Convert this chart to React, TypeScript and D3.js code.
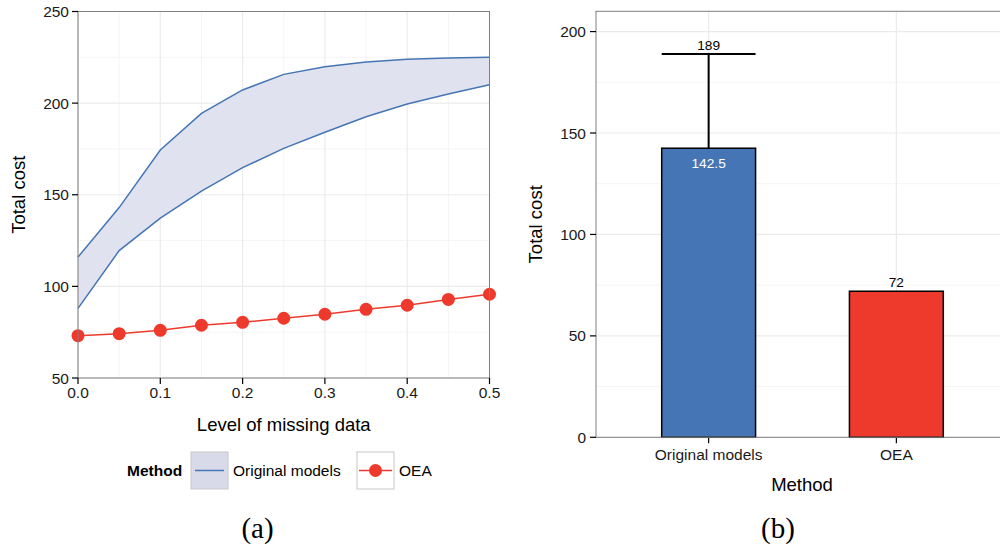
import React from "react";
import * as d3 from "d3";

// Panel (a): cost against the level of missing data
const missingLevels = [0, 0.05, 0.1, 0.15, 0.2, 0.25, 0.3, 0.35, 0.4, 0.45, 0.5];
const originalUpper = [116, 143, 174.4, 194.4, 207.2, 215.7, 219.9, 222.4, 223.9, 224.6, 225];
const originalLower = [88, 119.5, 137.2, 152, 164.8, 175.3, 184.1, 192.6, 199.5, 205, 210];
const oeaCost = [73.1, 74.2, 76, 78.8, 80.4, 82.6, 84.8, 87.5, 89.7, 92.9, 95.7];
const xTicksA = [0, 0.1, 0.2, 0.3, 0.4, 0.5];
const xMinorA = [0.05, 0.15, 0.25, 0.35, 0.45];
const yTicksA = [50, 100, 150, 200, 250];
const yMinorA = [75, 125, 175, 225];

// Panel (b): mean cost per method
const methods = ["Original models", "OEA"];
const methodMean = [142.5, 72];
const methodUpper = [189, null];
const yTicksB = [0, 50, 100, 150, 200];
const yMinorB = [25, 75, 125, 175];

const BLUE = "#4575b4";
const RED = "#ee3a2c";
const RIBBON = "#e0e3ef";
const SANS = "'Liberation Sans', Arial, Helvetica, sans-serif";
const SERIF = "'Liberation Serif', 'DejaVu Serif', serif";
const MAJOR = "#ebebeb";
const MINOR = "#f5f5f5";
const BORDER = "#7f7f7f";

function PanelA() {
  const x = d3.scaleLinear().domain([0, 0.5]).range([78, 489.5]);
  const y = d3.scaleLinear().domain([50, 250]).range([378, 11.5]);
  const pts = missingLevels.map((m, i) => ({ m, lo: originalLower[i], hi: originalUpper[i], o: oeaCost[i] }));
  const area = d3.area<any>().x((d) => x(d.m)).y0((d) => y(d.lo)).y1((d) => y(d.hi));
  const upper = d3.line<any>().x((d) => x(d.m)).y((d) => y(d.hi));
  const lower = d3.line<any>().x((d) => x(d.m)).y((d) => y(d.lo));
  const oea = d3.line<any>().x((d) => x(d.m)).y((d) => y(d.o));
  const [x0, x1] = x.range();
  const [yb, yt] = y.range();
  return (
    <g>
      <rect x={x0} y={yt} width={x1 - x0} height={yb - yt} fill="#fff" />
      {yMinorA.map((v) => (
        <line key={"ym" + v} x1={x0} x2={x1} y1={y(v)} y2={y(v)} stroke={MINOR} strokeWidth={1} />
      ))}
      {xMinorA.map((v) => (
        <line key={"xm" + v} x1={x(v)} x2={x(v)} y1={yt} y2={yb} stroke={MINOR} strokeWidth={1} />
      ))}
      {yTicksA.map((v) => (
        <line key={"yg" + v} x1={x0} x2={x1} y1={y(v)} y2={y(v)} stroke={MAJOR} strokeWidth={1.2} />
      ))}
      {xTicksA.map((v) => (
        <line key={"xg" + v} x1={x(v)} x2={x(v)} y1={yt} y2={yb} stroke={MAJOR} strokeWidth={1.2} />
      ))}
      <path d={area(pts) || ""} fill={RIBBON} />
      <path d={upper(pts) || ""} fill="none" stroke={BLUE} strokeWidth={1.5} />
      <path d={lower(pts) || ""} fill="none" stroke={BLUE} strokeWidth={1.5} />
      <path d={oea(pts) || ""} fill="none" stroke={RED} strokeWidth={1.5} />
      {pts.map((d) => (
        <circle key={"p" + d.m} cx={x(d.m)} cy={y(d.o)} r={6.5} fill={RED} />
      ))}
      <rect x={x0} y={yt} width={x1 - x0} height={yb - yt} fill="none" stroke={BORDER} strokeWidth={1} />
      {yTicksA.map((v) => (
        <g key={"yt" + v}>
          <line x1={x0 - 6} x2={x0} y1={y(v)} y2={y(v)} stroke="#000" strokeWidth={1.2} />
          <text x={x0 - 9} y={y(v)} dy="0.36em" textAnchor="end" fontSize={15.5} fontFamily={SANS} fill="#1a1a1a">
            {v}
          </text>
        </g>
      ))}
      {xTicksA.map((v) => (
        <g key={"xt" + v}>
          <line x1={x(v)} x2={x(v)} y1={yb} y2={yb + 6} stroke="#000" strokeWidth={1.2} />
          <text x={x(v)} y={398} textAnchor="middle" fontSize={15.5} fontFamily={SANS} fill="#1a1a1a">
            {d3.format(".1f")(v)}
          </text>
        </g>
      ))}
      <text x={(x0 + x1) / 2} y={431} textAnchor="middle" fontSize={18.5} fontFamily={SANS} fill="#000">
        Level of missing data
      </text>
      <text
        transform={`translate(25,${(yt + yb) / 2}) rotate(-90)`}
        textAnchor="middle"
        fontSize={18.5}
        fontFamily={SANS}
        fill="#000"
      >
        Total cost
      </text>
      {/* legend */}
      <text x={127} y={476} fontSize={15.5} fontWeight="bold" fontFamily={SANS} fill="#000">
        Method
      </text>
      <rect x={191} y={452} width={37} height={37} fill="#d8dae9" stroke="#c8c8c8" strokeWidth={1} />
      <line x1={195} x2={224} y1={470.5} y2={470.5} stroke={BLUE} strokeWidth={1.5} />
      <text x={233} y={476} fontSize={15.5} fontFamily={SANS} fill="#000">
        {methods[0]}
      </text>
      <rect x={357} y={452} width={37} height={37} fill="#fff" stroke="#c8c8c8" strokeWidth={1} />
      <line x1={359} x2={392} y1={470.5} y2={470.5} stroke={RED} strokeWidth={1.5} />
      <circle cx={375.5} cy={470.5} r={6.5} fill={RED} />
      <text x={399} y={476} fontSize={15.5} fontFamily={SANS} fill="#000">
        {methods[1]}
      </text>
      <text x={257.5} y={538} textAnchor="middle" fontSize={29} fontFamily={SERIF} fill="#000">
        (a)
      </text>
    </g>
  );
}

function PanelB() {
  // discrete positions 1..n with 0.6 padding on either side
  const x = d3.scaleLinear().domain([0.4, methods.length + 0.6]).range([596, 1009]);
  const y = d3.scaleLinear().domain([0, 210]).range([437.3, 11.3]);
  const [x0, x1] = x.range();
  const [yb, yt] = y.range();
  const halfW = (x(1.25) - x(1)) as number;
  const colors = [BLUE, RED];
  return (
    <g>
      {yMinorB.map((v) => (
        <line key={"ym" + v} x1={x0} x2={x1} y1={y(v)} y2={y(v)} stroke={MINOR} strokeWidth={1} />
      ))}
      {yTicksB.map((v) => (
        <line key={"yg" + v} x1={x0} x2={x1} y1={y(v)} y2={y(v)} stroke={MAJOR} strokeWidth={1.2} />
      ))}
      {methods.map((m, i) => (
        <line key={"xg" + m} x1={x(i + 1)} x2={x(i + 1)} y1={yt} y2={yb} stroke={MAJOR} strokeWidth={1.2} />
      ))}
      {methods.map((m, i) => {
        const cx = x(i + 1);
        const up = methodUpper[i];
        return (
          <g key={"bar" + m}>
            {up != null && (
              <g>
                <line x1={cx} x2={cx} y1={y(methodMean[i])} y2={y(up)} stroke="#000" strokeWidth={2} />
                <line x1={cx - halfW} x2={cx + halfW} y1={y(up)} y2={y(up)} stroke="#000" strokeWidth={2} />
                <text x={cx} y={y(up) - 3.5} textAnchor="middle" fontSize={13.7} fontFamily={SANS} fill="#000">
                  {up}
                </text>
              </g>
            )}
            <rect
              x={cx - halfW}
              y={y(methodMean[i])}
              width={halfW * 2}
              height={yb - y(methodMean[i])}
              fill={colors[i]}
              stroke="#000"
              strokeWidth={1.5}
            />
            {up != null ? (
              <text x={cx} y={y(methodMean[i]) + 19.5} textAnchor="middle" fontSize={13.7} fontFamily={SANS} fill="#fff">
                {methodMean[i]}
              </text>
            ) : (
              <text x={cx} y={y(methodMean[i]) - 4.5} textAnchor="middle" fontSize={13.7} fontFamily={SANS} fill="#000">
                {methodMean[i]}
              </text>
            )}
            <line x1={cx} x2={cx} y1={yb} y2={yb + 6} stroke="#000" strokeWidth={1.2} />
            <text x={cx} y={459.5} textAnchor="middle" fontSize={15.5} fontFamily={SANS} fill="#1a1a1a">
              {m}
            </text>
          </g>
        );
      })}
      <rect x={x0} y={yt} width={x1 - x0} height={yb - yt} fill="none" stroke={BORDER} strokeWidth={1} />
      {yTicksB.map((v) => (
        <g key={"yt" + v}>
          <line x1={x0 - 6} x2={x0} y1={y(v)} y2={y(v)} stroke="#000" strokeWidth={1.2} />
          <text x={x0 - 10} y={y(v)} dy="0.36em" textAnchor="end" fontSize={15.5} fontFamily={SANS} fill="#1a1a1a">
            {v}
          </text>
        </g>
      ))}
      <text x={802} y={491} textAnchor="middle" fontSize={18.5} fontFamily={SANS} fill="#000">
        Method
      </text>
      <text
        transform={`translate(542,${(yt + yb) / 2}) rotate(-90)`}
        textAnchor="middle"
        fontSize={18.5}
        fontFamily={SANS}
        fill="#000"
      >
        Total cost
      </text>
      <text x={778} y={538} textAnchor="middle" fontSize={29} fontFamily={SERIF} fill="#000">
        (b)
      </text>
    </g>
  );
}

export default function App() {
  return (
    <svg
      width={1000}
      height={547}
      viewBox="0 0 1000 547"
      style={{ position: "absolute", left: 0, top: 0, background: "#fff" }}
    >
      <rect width={1000} height={547} fill="#fff" />
      <PanelA />
      <PanelB />
    </svg>
  );
}
